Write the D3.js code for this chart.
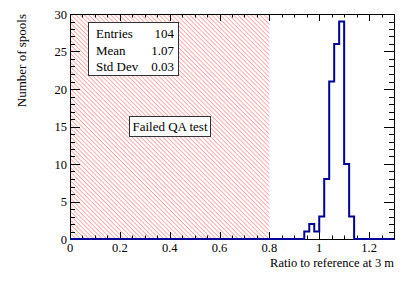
<!DOCTYPE html>
<html>
<head>
<meta charset="utf-8">
<script src="https://cdn.jsdelivr.net/npm/d3@7.9.0/dist/d3.min.js"></script>
<style>
  body { margin: 0; background: white; }
  svg text { font-family: 'Liberation Serif', 'Times New Roman', serif; }
</style>
</head>
<body>
<div id="chart"></div>
<script>
/* Data */
const binStarts = [0.94, 0.96, 0.98, 1.00, 1.02, 1.04, 1.06, 1.08, 1.10, 1.12];
const binCounts = [1, 2, 1, 3, 8, 21, 26, 29, 10, 3];
const binWidth = 0.02;
const xTicks = [0, 0.2, 0.4, 0.6, 0.8, 1, 1.2];
const yTicks = [0, 5, 10, 15, 20, 25, 30];
const failedRange = [0, 0.8];
const statLabels = ['Entries', 'Mean', 'Std Dev'];
const statValues = ['104', '1.07', '0.03'];

const width = 415, height = 281;
const margin = { top: 14, right: 21, bottom: 42, left: 70 };

const svg = d3.select('#chart')
  .append('svg')
  .attr('width', width)
  .attr('height', height);

const x = d3.scaleLinear().domain([0, 1.3]).range([margin.left, width - margin.right]);
const y = d3.scaleLinear().domain([0, 30]).range([height - margin.bottom, margin.top]);

// hatch pattern for the failed region
const defs = svg.append('defs');
const pattern = defs.append('pattern')
  .attr('id', 'hatch')
  .attr('patternUnits', 'userSpaceOnUse')
  .attr('width', 8)
  .attr('height', 3.1)
  .attr('patternTransform', 'rotate(45)');
pattern.append('line')
  .attr('x1', 0).attr('x2', 8)
  .attr('y1', 0.5).attr('y2', 0.5)
  .attr('stroke', '#ff2020')
  .attr('stroke-opacity', 0.6)
  .attr('stroke-width', 0.7);

svg.append('rect')
  .attr('x', x(failedRange[0]))
  .attr('y', y(30))
  .attr('width', x(failedRange[1]) - x(failedRange[0]))
  .attr('height', y(0) - y(30))
  .attr('fill', 'url(#hatch)');

// histogram outline
const pts = [[0, 0]];
binStarts.forEach((b, i) => {
  pts.push([b, i === 0 ? 0 : binCounts[i - 1]]);
  pts.push([b, binCounts[i]]);
});
const last = binStarts[binStarts.length - 1] + binWidth;
pts.push([last, binCounts[binCounts.length - 1]]);
pts.push([last, 0]);
pts.push([1.3, 0]);

const line = d3.line().x(d => x(d[0])).y(d => y(d[1]));

// axes, ticks inside on all four sides
const xMinor = d3.range(0, 1.3001, 0.05);
const yMinor = d3.range(0, 30.001, 1);
const ax = svg.append('g').attr('stroke', 'black').attr('stroke-width', 1);

function tick(x1, y1, x2, y2) {
  ax.append('line').attr('x1', x1).attr('y1', y1).attr('x2', x2).attr('y2', y2);
}

xMinor.forEach((v, i) => {
  const len = (i % 4 === 0) ? 7 : 3.5;
  const px = Math.round(x(v)) + 0.5;
  tick(px, y(0), px, y(0) - len);
  tick(px, y(30), px, y(30) + len);
});
yMinor.forEach((v, i) => {
  const len = (i % 5 === 0) ? 10 : 5;
  const py = Math.round(y(v)) + 0.5;
  tick(x(0), py, x(0) + len, py);
  tick(x(1.3), py, x(1.3) - len, py);
});

svg.append('rect')
  .attr('x', Math.round(x(0)) + 0.5)
  .attr('y', Math.round(y(30)) + 0.5)
  .attr('width', Math.round(x(1.3)) - Math.round(x(0)))
  .attr('height', Math.round(y(0)) - Math.round(y(30)))
  .attr('fill', 'none')
  .attr('stroke', 'black');

svg.append('path')
  .attr('d', line(pts))
  .attr('fill', 'none')
  .attr('stroke', '#000099')
  .attr('stroke-width', 2);

// tick labels
svg.append('g')
  .selectAll('text')
  .data(xTicks)
  .join('text')
  .attr('x', d => x(d))
  .attr('y', y(0) + 12.5)
  .attr('text-anchor', 'middle')
  .attr('font-size', 12.5)
  .text(d => d);

svg.append('g')
  .selectAll('text')
  .data(yTicks)
  .join('text')
  .attr('x', x(0) - 3)
  .attr('y', d => y(d) + 4.5)
  .attr('text-anchor', 'end')
  .attr('font-size', 12.5)
  .text(d => d);

// axis titles
svg.append('text')
  .attr('x', x(1.3))
  .attr('y', 267)
  .attr('text-anchor', 'end')
  .attr('font-size', 12.5)
  .text('Ratio to reference at 3 m');

svg.append('text')
  .attr('transform', `translate(26, ${y(30)}) rotate(-90)`)
  .attr('text-anchor', 'end')
  .attr('font-size', 13)
  .text('Number of spools');

// stats box
svg.append('rect')
  .attr('x', 88.5).attr('y', 22.5)
  .attr('width', 90).attr('height', 53)
  .attr('fill', 'white')
  .attr('stroke', '#333');

statLabels.forEach((s, i) => {
  svg.append('text')
    .attr('x', 96).attr('y', 38 + i * 16.5)
    .attr('font-size', 13)
    .text(s);
  svg.append('text')
    .attr('x', 174).attr('y', 38 + i * 16.5)
    .attr('text-anchor', 'end')
    .attr('font-size', 13)
    .text(statValues[i]);
});

// failed label
svg.append('rect')
  .attr('x', 129.5).attr('y', 116.5)
  .attr('width', 81).attr('height', 20)
  .attr('fill', 'white')
  .attr('stroke', '#333');

svg.append('text')
  .attr('x', 170).attr('y', 131)
  .attr('text-anchor', 'middle')
  .attr('font-size', 13)
  .text('Failed QA test');
</script>
</body>
</html>
